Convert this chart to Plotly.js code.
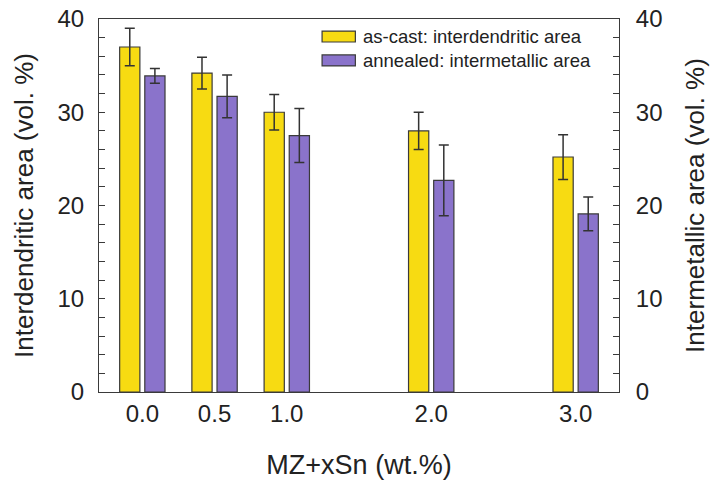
<!DOCTYPE html>
<html>
<head>
<meta charset="utf-8">
<script src="https://cdn.plot.ly/plotly-3.0.1.min.js"></script>
<style>html,body{margin:0;padding:0;background:#fff;}#chart{width:722px;height:486px;}</style>
</head>
<body>
<div id="chart"></div>
<script>
// Data
const snContent = [0, 0.5, 1.0, 2.0, 3.0];
const tickLabels = ['0.0', '0.5', '1.0', '2.0', '3.0'];
const asCastInterdendritic = [37.0, 34.2, 30.0, 28.0, 25.2];
const asCastErr = [2.0, 1.7, 1.9, 2.0, 2.4];
const annealedIntermetallic = [33.9, 31.7, 27.5, 22.7, 19.1];
const annealedErr = [0.8, 2.3, 2.9, 3.8, 1.8];
const seriesNames = ['as-cast: interdendritic area', 'annealed: intermetallic area'];
const seriesColors = ['#F7DB12', '#8A73CB'];

const FONT = 'Liberation Sans, Arial, sans-serif';
const AX = '#3a3a3a';

const traces = [
  {
    type: 'bar', name: seriesNames[0], x: snContent, y: asCastInterdendritic,
    width: 0.14, offset: -0.157,
    marker: {color: seriesColors[0], line: {color: '#3a3a3a', width: 1.2}},
    error_y: {type: 'data', array: asCastErr, visible: true, color: '#333', thickness: 1.5, width: 5},
    yaxis: 'y'
  },
  {
    type: 'bar', name: seriesNames[1], x: snContent, y: annealedIntermetallic,
    width: 0.14, offset: 0.017,
    marker: {color: seriesColors[1], line: {color: '#3a3a3a', width: 1.2}},
    error_y: {type: 'data', array: annealedErr, visible: true, color: '#333', thickness: 1.5, width: 5},
    yaxis: 'y2'
  }
];

const yCommon = {
  range: [0, 40], tickvals: [0, 10, 20, 30, 40],
  ticks: 'inside', ticklen: 6, tickcolor: AX, tickwidth: 1,
  minor: {dtick: 2, ticks: 'inside', ticklen: 6, tickcolor: AX, tickwidth: 1},
  showline: true, linecolor: AX, linewidth: 1, showgrid: false, zeroline: false,
  tickfont: {family: FONT, size: 24, color: '#222'},
  fixedrange: true
};

// Custom legend (wide flat swatches like the reference), in paper coordinates
const legendX0 = 0.429, legendSwW = 0.064, legendTextX = 0.506;
const legendRowsY = [0.953, 0.889];
const legendShapes = seriesNames.map((n, i) => ({
  type: 'rect', xref: 'paper', yref: 'paper',
  x0: legendX0, x1: legendX0 + legendSwW,
  y0: legendRowsY[i] - 0.0147, y1: legendRowsY[i] + 0.0147,
  fillcolor: seriesColors[i], line: {color: '#3a3a3a', width: 1.2}
}));
const legendAnnots = seriesNames.map((n, i) => ({
  xref: 'paper', yref: 'paper', x: legendTextX, y: legendRowsY[i],
  xanchor: 'left', yanchor: 'middle', showarrow: false, text: n, borderpad: 0,
  font: {family: FONT, size: 18.5, color: '#222'}
}));

const layout = {
  width: 722, height: 486,
  margin: {l: 99, r: 103, t: 19, b: 94},
  paper_bgcolor: '#fff', plot_bgcolor: '#fff',
  barmode: 'overlay',
  font: {family: FONT, color: '#222'},
  showlegend: false,
  shapes: legendShapes,
  annotations: legendAnnots,
  xaxis: {
    range: [-0.30, 3.30], tickvals: snContent, ticktext: tickLabels,
    ticks: '', showline: true, mirror: true, linecolor: AX, linewidth: 1,
    showgrid: false, zeroline: false,
    tickfont: {family: FONT, size: 24, color: '#222'},
    title: {text: 'MZ+xSn (wt.%)', font: {family: FONT, size: 27, color: '#222'}, standoff: 29}
  },
  yaxis: Object.assign({}, yCommon, {
    side: 'left', ticklabelstandoff: 9,
    title: {text: 'Interdendritic area (vol. %)', font: {family: FONT, size: 26, color: '#222'}, standoff: 16}
  }),
  yaxis2: Object.assign({}, yCommon, {
    side: 'right', overlaying: 'y', ticklabelstandoff: 11,
    title: {text: 'Intermetallic area (vol. %)', font: {family: FONT, size: 26, color: '#222'}, standoff: 24}
  })
};

Plotly.newPlot('chart', traces, layout, {displayModeBar: false, staticPlot: true});
</script>
</body>
</html>
